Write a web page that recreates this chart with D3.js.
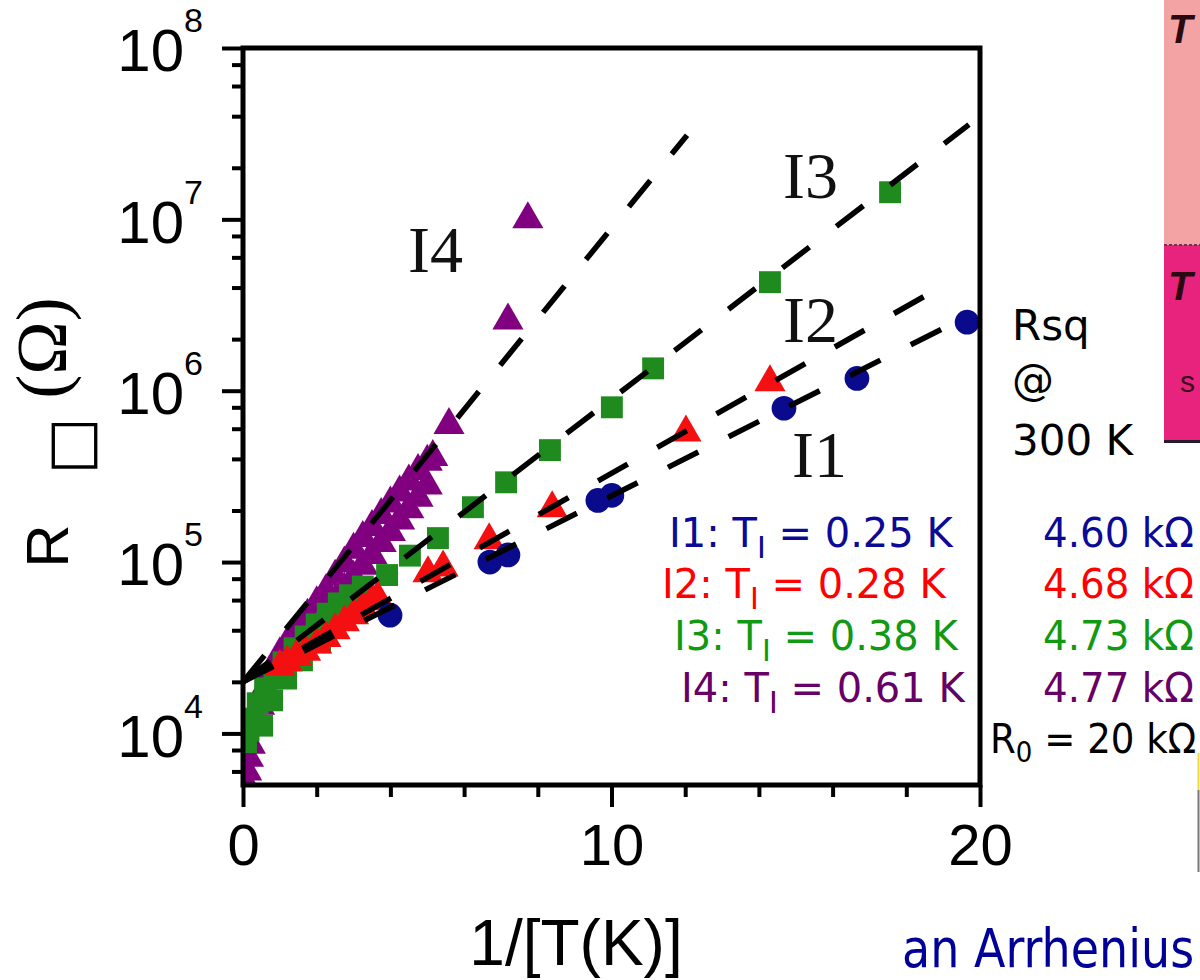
<!DOCTYPE html>
<html>
<head>
<meta charset="utf-8">
<script src="https://cdn.jsdelivr.net/npm/d3@7"></script>
<style>
  html, body { margin: 0; padding: 0; background: #fff; }
  svg { display: block; }
</style>
</head>
<body>
<script>
// values: x = 1/T (1/K), R = sheet resistance (ohm)
const i1X = [3.99, 6.70, 7.19, 9.63, 10.01, 14.68, 16.66, 19.65];
const i1R = [4.9e4, 1.0e5, 1.1e5, 2.29e5, 2.45e5, 7.9e5, 1.18e6, 2.51e6];

const i2X = [1.0, 1.2, 1.45, 1.7, 2.0, 2.25, 2.5, 2.75, 3.0, 3.25, 3.5, 3.65, 5.02, 5.43, 6.68, 8.39, 12.02, 14.30];
const i2R = [2.45e4, 2.6e4, 2.8e4, 3.0e4, 3.3e4, 3.6e4, 4.0e4, 4.45e4, 4.9e4, 5.4e4, 5.9e4, 6.2e4, 8.6e4, 9.3e4, 1.34e5, 2.06e5, 5.7e5, 1.12e6];

const i3X = [0.08, 0.15, 0.25, 0.4, 0.52, 0.6, 0.79, 0.85, 1.1, 1.17, 1.4, 1.6, 1.7, 2.0, 2.09, 2.3, 2.6, 2.9, 3.25, 3.91, 4.53, 5.29, 6.24, 7.14, 8.33, 10.01, 11.13, 14.30, 17.56];
const i3R = [8.9e3, 1.04e4, 1.22e4, 1.5e4, 1.11e4, 1.83e4, 1.56e4, 2.21e4, 2.6e4, 2.09e4, 3.14e4, 2.67e4, 3.68e4, 4.33e4, 3.4e4, 5.0e4, 5.74e4, 6.4e4, 7.2e4, 8.4e4, 1.09e5, 1.38e5, 2.09e5, 2.92e5, 4.5e5, 8.0e5, 1.35e6, 4.3e6, 1.44e7];

// I4: upper edge of the dense band, then lower edge, then the single points
const i4X = [0.05, 0.1, 0.15, 0.2, 0.3, 0.45, 0.6, 0.8, 1.0, 1.25, 1.5, 1.75, 2.0, 2.25, 2.5, 2.75, 3.0, 3.25, 3.5, 3.75, 4.0, 4.25, 4.5, 4.75, 5.0, 5.15,
             2.25, 2.5, 2.75, 3.0, 3.25, 3.5, 3.75, 4.0, 4.25, 4.5, 4.75, 5.0,
             5.59, 7.19, 7.73];
const i4R = [5.2e3, 6.0e3, 7.2e3, 8.6e3, 1.1e4, 1.45e4, 1.85e4, 2.35e4, 2.9e4, 3.5e4, 4.1e4, 4.86e4, 5.75e4, 6.76e4, 8.2e4, 9.8e4, 1.18e5, 1.38e5, 1.6e5, 1.88e5, 2.2e5, 2.55e5, 2.95e5, 3.4e5, 3.85e5, 4.1e5,
             5.0e4, 5.88e4, 6.9e4, 8.1e4, 9.5e4, 1.1e5, 1.29e5, 1.5e5, 1.75e5, 2.03e5, 2.37e5, 2.8e5,
             6.3e5, 2.57e6, 1.0e7];

// dashed Arrhenius fits, start and end points
const fitI1 = [[0, 2.0e4], [19.7, 2.75e6]];
const fitI2 = [[0, 2.0e4], [19.0, 4.1e6]];
const fitI3 = [[0, 2.0e4], [19.7, 3.57e7]];
const fitI4 = [[0, 2.0e4], [12.05, 3.1e7]];

const xMajor = [0, 10, 20];
const xMinor = [2, 4, 6, 8, 12, 14, 16, 18];
const yMajor = [1e4, 1e5, 1e6, 1e7, 1e8];
const yMinor = [6e3, 8e3, 2e4, 4e4, 6e4, 8e4, 2e5, 4e5, 6e5, 8e5, 2e6, 4e6, 6e6, 8e6, 2e7, 4e7, 6e7, 8e7];

const seriesNames = ["I1", "I2", "I3", "I4"];
const tiValues = ["0.25", "0.28", "0.38", "0.61"];
const rsqValues = ["4.60", "4.68", "4.73", "4.77"];
const r0Value = "20";

const width = 1200;
const height = 980;
const marginTop = 48;
const marginLeft = 243;
const plotRight = 980;
const plotBottom = 785;

const x = d3.scaleLinear([0, 20], [marginLeft, plotRight]);
const y = d3.scaleLog([5e3, 1e8], [plotBottom, marginTop]);

const svg = d3.create("svg")
  .attr("width", width)
  .attr("height", height)
  .attr("viewBox", [0, 0, width, height]);

svg.append("rect").attr("width", width).attr("height", height).attr("fill", "#fff");

svg.append("clipPath").attr("id", "plotclip")
  .append("rect")
  .attr("x", marginLeft).attr("y", marginTop)
  .attr("width", plotRight - marginLeft).attr("height", plotBottom - marginTop);

// markers, drawn I4 first so the others sit on top
const series = [
  {xs: i4X, rs: i4R, color: "#800080", type: d3.symbolTriangle, size: 420},
  {xs: i3X, rs: i3R, color: "#1f8b1f", type: d3.symbolSquare, size: 480},
  {xs: i2X, rs: i2R, color: "#f41010", type: d3.symbolTriangle, size: 420},
  {xs: i1X, rs: i1R, color: "#0a0a8c", type: d3.symbolCircle, size: 480}
];

const marks = svg.append("g").attr("clip-path", "url(#plotclip)");
series.forEach(s => {
  marks.append("g")
    .selectAll("path")
    .data(d3.zip(s.xs, s.rs))
    .join("path")
      .attr("transform", d => `translate(${x(d[0])},${y(d[1])})`)
      .attr("d", d3.symbol(s.type, s.size))
      .attr("fill", s.color);
});

const line = d3.line().x(d => x(d[0])).y(d => y(d[1]));
marks.append("g")
  .selectAll("path")
  .data([fitI1, fitI2, fitI3, fitI4])
  .join("path")
    .attr("d", line)
    .attr("fill", "none")
    .attr("stroke", "#000")
    .attr("stroke-width", 5.5)
    .attr("stroke-dasharray", "34,34");

// frame
svg.append("rect")
  .attr("x", marginLeft).attr("y", marginTop)
  .attr("width", plotRight - marginLeft).attr("height", plotBottom - marginTop)
  .attr("fill", "none").attr("stroke", "#000").attr("stroke-width", 5);

function styleAxis(g) {
  g.select(".domain").remove();
  g.selectAll(".tick line").attr("stroke", "#000").attr("stroke-width", 4);
}

svg.append("g")
  .attr("transform", `translate(0,${plotBottom})`)
  .call(d3.axisBottom(x).tickValues(xMinor).tickSize(12).tickFormat(""))
  .call(styleAxis);

svg.append("g")
  .attr("transform", `translate(0,${plotBottom})`)
  .call(d3.axisBottom(x).tickValues(xMajor).tickSize(22).tickPadding(17).tickFormat(d3.format("d")))
  .call(styleAxis)
  .call(g => g.selectAll(".tick text")
    .attr("font-family", "Liberation Sans, Arial, sans-serif")
    .attr("font-size", 58)
    .attr("fill", "#000"));

svg.append("g")
  .attr("transform", `translate(${marginLeft},0)`)
  .call(d3.axisLeft(y).tickValues(yMinor).tickSize(11).tickFormat(""))
  .call(styleAxis);

svg.append("g")
  .attr("transform", `translate(${marginLeft},0)`)
  .call(d3.axisLeft(y).tickValues(yMajor).tickSize(21).tickPadding(19).tickFormat(""))
  .call(styleAxis)
  .call(g => g.selectAll(".tick text").each(function(d) {
    const t = d3.select(this)
      .attr("dy", "0.38em")
      .attr("font-family", "Liberation Sans, Arial, sans-serif")
      .attr("font-size", 60)
      .attr("fill", "#000");
    t.append("tspan").text("10");
    t.append("tspan").attr("dy", -39).attr("font-size", 34).text(Math.round(Math.log10(d)));
  }));

// axis titles
svg.append("text")
  .attr("x", 576).attr("y", 965)
  .attr("text-anchor", "middle")
  .attr("font-family", "Liberation Sans, Arial, sans-serif")
  .attr("font-size", 64)
  .text("1/[T(K)]");

// y title in three pieces: R, the square subscript, (Omega)
svg.append("text")
  .attr("transform", "translate(68,546) rotate(-90)")
  .attr("text-anchor", "middle")
  .attr("font-family", "Liberation Sans, Arial, sans-serif")
  .attr("font-size", 60)
  .text("R");
svg.append("text")
  .attr("transform", "translate(90,446) rotate(-90)")
  .attr("text-anchor", "middle")
  .attr("font-family", "DejaVu Sans")
  .attr("font-size", 60)
  .text("\u25A1");
svg.append("text")
  .attr("transform", "translate(66,348) rotate(-90)")
  .attr("text-anchor", "middle")
  .attr("font-family", "Liberation Serif, Times New Roman, serif")
  .attr("font-size", 72)
  .text("(\u03A9)");

// curve labels
const curveLabelPos = [[792, 477], [783, 342], [783, 198], [408, 272]];
svg.append("g")
  .selectAll("text")
  .data(seriesNames)
  .join("text")
    .attr("x", (d, i) => curveLabelPos[i][0])
    .attr("y", (d, i) => curveLabelPos[i][1])
    .attr("font-family", "Liberation Serif, Times New Roman, serif")
    .attr("font-size", 66)
    .attr("fill", "#111")
    .text(d => d);

// legend
const textColors = ["#0a0a96", "#ff0000", "#119911", "#660066"];
const legendX = [669, 662, 674, 681];
const rowY = [547, 598, 650, 702, 753];
const handFont = "DejaVu Sans, Verdana, sans-serif";

seriesNames.forEach((name, i) => {
  const t = svg.append("text")
    .attr("x", legendX[i]).attr("y", rowY[i])
    .attr("font-family", handFont).attr("font-size", 40)
    .attr("fill", textColors[i]);
  t.append("tspan").text(name + ": T");
  t.append("tspan").attr("font-size", 30).attr("dy", 11).text("I");
  t.append("tspan").attr("dy", -11).text(" = " + tiValues[i] + " K");

  svg.append("text")
    .attr("transform", `translate(1043,${rowY[i]}) scale(0.97,1)`)
    .attr("font-family", handFont).attr("font-size", 40)
    .attr("fill", textColors[i])
    .text(rsqValues[i] + " k\u03A9");
});

const r0 = svg.append("text")
  .attr("transform", `translate(990,${rowY[4]}) scale(0.93,1)`)
  .attr("font-family", handFont).attr("font-size", 40)
  .attr("fill", "#000");
r0.append("tspan").text("R");
r0.append("tspan").attr("font-size", 28).attr("dy", 9).text("0");
r0.append("tspan").attr("dy", -9).text(" = " + r0Value + " k\u03A9");

svg.append("g")
  .selectAll("text")
  .data(["Rsq", "@", "300 K"])
  .join("text")
    .attr("x", 1012)
    .attr("y", (d, i) => [340, 395, 455][i])
    .attr("font-family", handFont)
    .attr("font-size", 42)
    .attr("fill", "#000")
    .text(d => d);

svg.append("text")
  .attr("transform", "translate(902,967) scale(1,1.15)")
  .attr("font-family", handFont)
  .attr("font-size", 46)
  .attr("fill", "#000099")
  .text("an Arrhenius");

// cropped neighbouring panel at the top right
const panel = svg.append("g");
panel.append("rect").attr("x", 1164).attr("y", 0).attr("width", 36).attr("height", 245).attr("fill", "#f4a3a5");
panel.append("rect").attr("x", 1164).attr("y", 245).attr("width", 36).attr("height", 195).attr("fill", "#e8237d");
panel.append("line").attr("x1", 1164).attr("x2", 1200).attr("y1", 245).attr("y2", 245)
  .attr("stroke", "#7a3050").attr("stroke-width", 2).attr("stroke-dasharray", "3,2");
panel.append("rect").attr("x", 1164).attr("y", 440).attr("width", 36).attr("height", 3).attr("fill", "#2a1a2a");
panel.append("text").attr("x", 1168).attr("y", 43)
  .attr("font-family", "Liberation Sans, Arial, sans-serif").attr("font-size", 40)
  .attr("font-style", "italic").attr("font-weight", "bold").attr("fill", "#2a0a10").text("T");
panel.append("text").attr("x", 1168).attr("y", 300)
  .attr("font-family", "Liberation Sans, Arial, sans-serif").attr("font-size", 40)
  .attr("font-style", "italic").attr("font-weight", "bold").attr("fill", "#2a0a10").text("T");
panel.append("text").attr("x", 1180).attr("y", 392)
  .attr("font-family", "Liberation Sans, Arial, sans-serif").attr("font-size", 30)
  .attr("fill", "#3a0a20").text("s");

svg.append("line").attr("x1", 1198.5).attr("x2", 1198.5).attr("y1", 753).attr("y2", 790)
  .attr("stroke", "#e8d84a").attr("stroke-width", 2);
svg.append("line").attr("x1", 1198.5).attr("x2", 1198.5).attr("y1", 790).attr("y2", 872)
  .attr("stroke", "#777").attr("stroke-width", 2);

document.body.append(svg.node());
</script>
</body>
</html>
